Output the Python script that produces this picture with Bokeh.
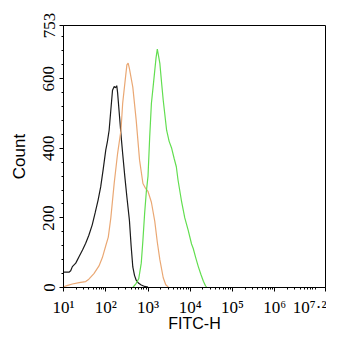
from bokeh.plotting import figure
from bokeh.models import FixedTicker, Range1d
from bokeh.embed import file_html
from bokeh.resources import INLINE

# log10(FITC-H) positions and counts
black_log = [1.0, 1.13, 1.17, 1.21, 1.29, 1.37, 1.45, 1.525, 1.6, 1.68, 1.75, 1.82, 1.88, 1.94, 2.0, 2.04, 2.08, 2.12, 2.16, 2.2, 2.23, 2.26, 2.28, 2.32, 2.36, 2.40, 2.45, 2.50, 2.56, 2.60, 2.64, 2.68, 2.72, 2.78, 2.84, 2.92, 3.0]
black_cnt = [44, 44, 48, 60, 70, 89, 108, 127, 150, 180, 215, 252, 289, 340, 395, 420, 452, 510, 567, 578, 574, 580, 560, 500, 440, 385, 320, 260, 193, 120, 59, 35, 21, 12, 7, 3, 1]

orange_log = [1.0, 1.1, 1.21, 1.37, 1.525, 1.6, 1.72, 1.84, 1.92, 2.0, 2.06, 2.12, 2.20, 2.28, 2.36, 2.40, 2.46, 2.50, 2.53, 2.56, 2.64, 2.72, 2.80, 2.88, 2.94, 3.0, 3.08, 3.16, 3.22, 3.28, 3.36, 3.42, 3.48]
orange_cnt = [2, 6, 10, 14, 17, 24, 40, 62, 86, 120, 145, 200, 300, 385, 452, 529, 596, 640, 645, 629, 576, 481, 366, 299, 285, 276, 245, 190, 130, 80, 28, 8, 1]

green_log = [2.64, 2.72, 2.78, 2.84, 2.88, 2.92, 2.96, 3.0, 3.04, 3.08, 3.12, 3.16, 3.19, 3.22, 3.25, 3.28, 3.32, 3.36, 3.44, 3.50, 3.56, 3.62, 3.67, 3.71, 3.79, 3.87, 3.95, 4.03, 4.07, 4.13, 4.19, 4.25, 4.31, 4.36, 4.39]
green_cnt = [0, 12, 25, 70, 137, 213, 275, 320, 433, 529, 576, 624, 660, 685, 665, 644, 590, 538, 452, 420, 400, 370, 347, 309, 250, 200, 165, 125, 112, 85, 60, 38, 18, 5, 0]

x_tick_exps = [1, 2, 3, 4, 5, 6, 7.2]
x_tick_labels = ["10\u00b9", "10\u00b2", "10\u00b3", "10\u2074", "10\u2075", "10\u2076", "10\u2077\u00b7\u00b2"]
y_ticks = [0, 200, 400, 600, 753]

x_ticks = [10 ** e for e in x_tick_exps]
x_minor = [k * 10 ** n for n in range(1, 8) for k in range(2, 10) if k * 10 ** n <= 10 ** 7.2]
y_minor = list(range(0, 753, 40))

p = figure(width=326, height=334, x_axis_type="log",
           x_range=Range1d(10, 10 ** 7.2), y_range=Range1d(0, 753),
           output_backend="svg", toolbar_location=None,
           min_border_left=63, min_border_right=1, min_border_top=25, min_border_bottom=47)

p.line([10 ** v for v in black_log], black_cnt, line_color="#1a1a1a", line_width=1.2)
p.line([10 ** v for v in orange_log], orange_cnt, line_color="#eaa874", line_width=1.2)
p.line([10 ** v for v in green_log], green_cnt, line_color="#62de50", line_width=1.2)

p.xgrid.visible = False
p.ygrid.visible = False
p.outline_line_color = "black"
p.outline_line_width = 1

p.xaxis.ticker = FixedTicker(ticks=x_ticks, minor_ticks=x_minor)
p.xaxis.major_label_overrides = {t: l for t, l in zip(x_ticks, x_tick_labels)}
p.yaxis.ticker = FixedTicker(ticks=y_ticks, minor_ticks=y_minor)
p.yaxis.major_label_orientation = "vertical"

for ax in (p.xaxis[0], p.yaxis[0]):
    ax.axis_line_color = "black"
    ax.major_tick_line_color = "black"
    ax.minor_tick_line_color = "black"
    ax.major_tick_out = 4
    ax.major_tick_in = 0
    ax.minor_tick_out = 2
    ax.minor_tick_in = 0
    ax.major_label_text_font = "Liberation Sans Narrow"
    ax.major_label_text_font_size = "17px"
    ax.major_label_text_color = "black"
    ax.axis_label_text_font = "Liberation Sans"
    ax.axis_label_text_font_style = "normal"
    ax.axis_label_text_color = "black"

p.xaxis.axis_label = "FITC-H"
p.xaxis.axis_label_text_font_size = "16px"
p.xaxis.major_label_standoff = 6
p.xaxis.axis_label_standoff = -5
p.yaxis.axis_label = "Count"
p.yaxis.axis_label_text_font_size = "17px"
p.yaxis.major_label_standoff = 5
p.yaxis.axis_label_standoff = 12

open("out.html", "w").write(file_html(p, INLINE))
